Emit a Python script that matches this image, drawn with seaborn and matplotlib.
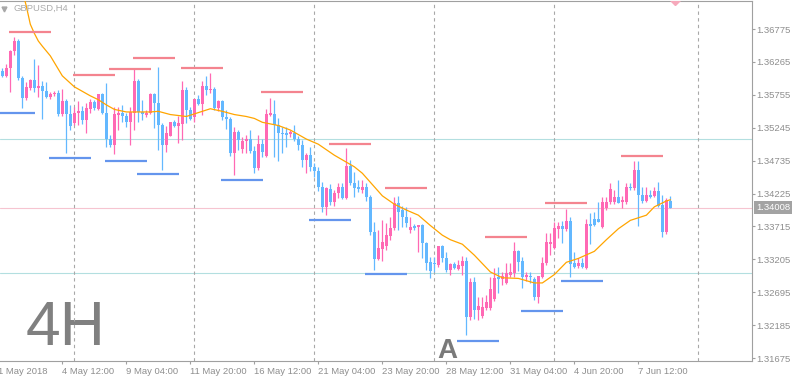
import numpy as np
import pandas as pd
import matplotlib.pyplot as plt
import seaborn as sns

# GBPUSD H4 candles, 2 May 2018 00:00 .. 8 Jun 2018 20:00
opens = [1.3612, 1.3605, 1.3617, 1.3643, 1.3659, 1.3602, 1.3571, 1.3586, 1.3599, 1.3586,
         1.3589, 1.3581, 1.3572, 1.3577, 1.3578, 1.3546, 1.3566, 1.3546, 1.3532, 1.3547,
         1.3550, 1.3537, 1.3554, 1.3564, 1.3554, 1.3577, 1.3547, 1.3507, 1.3498, 1.3544,
         1.3547, 1.3543, 1.3533, 1.3547, 1.3597, 1.3549, 1.3544, 1.3547, 1.3577, 1.3563,
         1.3529, 1.3498, 1.3512, 1.3533, 1.3527, 1.3530, 1.3583, 1.3552, 1.3541, 1.3569,
         1.3561, 1.3589, 1.3583, 1.3585, 1.3555, 1.3566, 1.3541, 1.3538, 1.3485, 1.3518,
         1.3492, 1.3504, 1.3507, 1.3488, 1.3462, 1.3499, 1.3481, 1.3544, 1.3546, 1.3529,
         1.3516, 1.3516, 1.3515, 1.3516, 1.3507, 1.3498, 1.3475, 1.3482, 1.3464, 1.3457,
         1.3433, 1.3402, 1.3430, 1.3409, 1.3423, 1.3433, 1.3416, 1.3465, 1.3439, 1.3433,
         1.3428, 1.3433, 1.3417, 1.3363, 1.3321, 1.3337, 1.3341, 1.3357, 1.3369, 1.3408,
         1.3397, 1.3386, 1.3366, 1.3372, 1.3371, 1.3374, 1.3346, 1.3316, 1.3315, 1.3312,
         1.3341, 1.3323, 1.3304, 1.3313, 1.3306, 1.3310, 1.3318, 1.3231, 1.3285, 1.3242,
         1.3233, 1.3245, 1.3245, 1.3259, 1.3293, 1.3290, 1.3284, 1.3296, 1.3300, 1.3333,
         1.3318, 1.3293, 1.3295, 1.3290, 1.3262, 1.3293, 1.3315, 1.3345, 1.3338, 1.3368,
         1.3372, 1.3368, 1.3380, 1.3315, 1.3310, 1.3315, 1.3307, 1.3375, 1.3383, 1.3383,
         1.3371, 1.3400, 1.3409, 1.3409, 1.3417, 1.3409, 1.3409, 1.3433, 1.3431, 1.3459,
         1.3420, 1.3411, 1.3420, 1.3419, 1.3427, 1.3405, 1.3363, 1.3411]
highs = [1.3617, 1.3623, 1.3645, 1.3665, 1.3662, 1.3605, 1.3595, 1.3600, 1.3631, 1.3622,
         1.3597, 1.3595, 1.3580, 1.3581, 1.3583, 1.3585, 1.3569, 1.3560, 1.3557, 1.3566,
         1.3558, 1.3563, 1.3569, 1.3568, 1.3577, 1.3578, 1.3594, 1.3513, 1.3557, 1.3557,
         1.3560, 1.3547, 1.3557, 1.3616, 1.3600, 1.3568, 1.3552, 1.3578, 1.3578, 1.3619,
         1.3532, 1.3527, 1.3533, 1.3537, 1.3543, 1.3597, 1.3588, 1.3557, 1.3569, 1.3575,
         1.3597, 1.3605, 1.3609, 1.3588, 1.3568, 1.3568, 1.3552, 1.3541, 1.3526, 1.3521,
         1.3510, 1.3513, 1.3521, 1.3496, 1.3513, 1.3507, 1.3554, 1.3571, 1.3568, 1.3540,
         1.3526, 1.3526, 1.3521, 1.3529, 1.3512, 1.3506, 1.3485, 1.3495, 1.3470, 1.3464,
         1.3440, 1.3433, 1.3437, 1.3428, 1.3439, 1.3439, 1.3493, 1.3475, 1.3456, 1.3444,
         1.3444, 1.3439, 1.3420, 1.3378, 1.3366, 1.3382, 1.3377, 1.3386, 1.3417, 1.3419,
         1.3403, 1.3402, 1.3386, 1.3375, 1.3374, 1.3375, 1.3347, 1.3324, 1.3324, 1.3341,
         1.3343, 1.3332, 1.3315, 1.3316, 1.3320, 1.3326, 1.3324, 1.3292, 1.3293, 1.3262,
         1.3262, 1.3265, 1.3293, 1.3307, 1.3309, 1.3301, 1.3315, 1.3315, 1.3347, 1.3335,
         1.3324, 1.3301, 1.3301, 1.3293, 1.3293, 1.3324, 1.3361, 1.3361, 1.3378, 1.3378,
         1.3380, 1.3399, 1.3386, 1.3332, 1.3323, 1.3323, 1.3383, 1.3392, 1.3394, 1.3409,
         1.3417, 1.3417, 1.3439, 1.3428, 1.3444, 1.3419, 1.3439, 1.3439, 1.3473, 1.3473,
         1.3433, 1.3433, 1.3428, 1.3433, 1.3440, 1.3420, 1.3416, 1.3419]
lows = [1.3603, 1.3603, 1.3580, 1.3637, 1.3599, 1.3555, 1.3568, 1.3583, 1.3580, 1.3572,
        1.3538, 1.3571, 1.3569, 1.3574, 1.3543, 1.3543, 1.3485, 1.3521, 1.3529, 1.3529,
        1.3530, 1.3516, 1.3547, 1.3552, 1.3552, 1.3546, 1.3495, 1.3495, 1.3484, 1.3521,
        1.3533, 1.3526, 1.3498, 1.3521, 1.3533, 1.3537, 1.3541, 1.3546, 1.3524, 1.3490,
        1.3459, 1.3487, 1.3512, 1.3526, 1.3501, 1.3506, 1.3532, 1.3537, 1.3533, 1.3560,
        1.3544, 1.3575, 1.3578, 1.3552, 1.3550, 1.3537, 1.3523, 1.3481, 1.3451, 1.3490,
        1.3485, 1.3485, 1.3485, 1.3454, 1.3459, 1.3479, 1.3479, 1.3543, 1.3479, 1.3473,
        1.3485, 1.3495, 1.3510, 1.3504, 1.3490, 1.3464, 1.3454, 1.3457, 1.3448, 1.3426,
        1.3394, 1.3389, 1.3405, 1.3403, 1.3416, 1.3414, 1.3414, 1.3436, 1.3417, 1.3425,
        1.3423, 1.3411, 1.3358, 1.3304, 1.3320, 1.3318, 1.3335, 1.3351, 1.3366, 1.3366,
        1.3371, 1.3371, 1.3361, 1.3366, 1.3332, 1.3323, 1.3304, 1.3292, 1.3301, 1.3309,
        1.3316, 1.3301, 1.3296, 1.3306, 1.3304, 1.3296, 1.3203, 1.3227, 1.3228, 1.3227,
        1.3230, 1.3242, 1.3242, 1.3256, 1.3268, 1.3281, 1.3282, 1.3293, 1.3293, 1.3302,
        1.3276, 1.3287, 1.3284, 1.3258, 1.3253, 1.3292, 1.3312, 1.3327, 1.3337, 1.3354,
        1.3346, 1.3364, 1.3293, 1.3307, 1.3307, 1.3307, 1.3306, 1.3344, 1.3372, 1.3378,
        1.3369, 1.3397, 1.3406, 1.3406, 1.3408, 1.3400, 1.3406, 1.3428, 1.3428, 1.3372,
        1.3408, 1.3409, 1.3416, 1.3417, 1.3402, 1.3355, 1.3360, 1.3400]
closes = [1.3605, 1.3617, 1.3643, 1.3659, 1.3602, 1.3571, 1.3588, 1.3599, 1.3586, 1.3589,
          1.3581, 1.3572, 1.3577, 1.3578, 1.3546, 1.3566, 1.3546, 1.3527, 1.3547, 1.3550,
          1.3537, 1.3555, 1.3564, 1.3555, 1.3577, 1.3547, 1.3507, 1.3498, 1.3546, 1.3547,
          1.3543, 1.3533, 1.3549, 1.3597, 1.3549, 1.3546, 1.3547, 1.3577, 1.3563, 1.3529,
          1.3498, 1.3516, 1.3533, 1.3527, 1.3532, 1.3583, 1.3552, 1.3538, 1.3569, 1.3561,
          1.3589, 1.3583, 1.3585, 1.3555, 1.3566, 1.3541, 1.3538, 1.3485, 1.3518, 1.3506,
          1.3504, 1.3507, 1.3488, 1.3462, 1.3499, 1.3487, 1.3546, 1.3547, 1.3529, 1.3516,
          1.3515, 1.3514, 1.3518, 1.3507, 1.3498, 1.3475, 1.3482, 1.3464, 1.3457, 1.3433,
          1.3402, 1.3431, 1.3409, 1.3423, 1.3433, 1.3416, 1.3465, 1.3439, 1.3431, 1.3430,
          1.3433, 1.3417, 1.3363, 1.3321, 1.3338, 1.3347, 1.3358, 1.3369, 1.3408, 1.3394,
          1.3386, 1.3377, 1.3371, 1.3369, 1.3374, 1.3346, 1.3315, 1.3302, 1.3313, 1.3341,
          1.3323, 1.3304, 1.3313, 1.3307, 1.3312, 1.3318, 1.3231, 1.3285, 1.3242, 1.3248,
          1.3247, 1.3254, 1.3275, 1.3292, 1.3290, 1.3295, 1.3300, 1.3301, 1.3333, 1.3316,
          1.3293, 1.3296, 1.3293, 1.3262, 1.3295, 1.3315, 1.3347, 1.3347, 1.3369, 1.3372,
          1.3368, 1.3380, 1.3313, 1.3309, 1.3315, 1.3308, 1.3375, 1.3372, 1.3374, 1.3379,
          1.3409, 1.3409, 1.3430, 1.3417, 1.3408, 1.3413, 1.3433, 1.3431, 1.3459, 1.3420,
          1.3411, 1.3420, 1.3417, 1.3427, 1.3403, 1.3363, 1.3413, 1.34008]

# moving average, sampled along the orange line (bar index, price)
ma_bar = [5, 6, 7, 8, 9, 10, 12, 15, 18, 20, 22, 24, 26, 28, 31, 34, 37, 39, 42, 46,
          49, 52, 55, 58, 61, 63, 65, 69, 72, 76, 79, 83, 88, 90, 92, 95, 98, 101, 104, 107,
          110, 112, 115, 118, 122, 125, 129, 133, 135, 138, 141, 144, 148, 151, 154, 157, 161, 163, 166, 167]
ma_price = [1.3738, 1.3713, 1.3685, 1.3671, 1.3659, 1.3651, 1.3636, 1.3605, 1.3588, 1.3581,
            1.3574, 1.3568, 1.3560, 1.3553, 1.3549, 1.3549, 1.3549, 1.3550, 1.3545, 1.3542,
            1.3548, 1.3554, 1.3550, 1.3545, 1.3542, 1.3539, 1.3533, 1.3528, 1.3521, 1.3507,
            1.3499, 1.3482, 1.3464, 1.3454, 1.3440, 1.3419, 1.3406, 1.3397, 1.3389, 1.3373,
            1.3358, 1.3351, 1.3344, 1.3327, 1.3301, 1.3292, 1.3291, 1.3284, 1.3284, 1.3297,
            1.3316, 1.3322, 1.3333, 1.3351, 1.3368, 1.3381, 1.3389, 1.3402, 1.3411, 1.3413]

# short resistance / support levels (first bar, price)
res_bar = [2, 18, 27, 33, 45, 65, 82, 96, 121, 136, 155]
res_price = [1.3673, 1.3606, 1.3616, 1.3633, 1.3617, 1.3580, 1.3499, 1.3431, 1.3355, 1.3408, 1.3481]
sup_bar = [-2, 12, 26, 34, 55, 77, 91, 114, 130, 140]
sup_price = [1.3547, 1.3478, 1.3473, 1.3453, 1.3444, 1.3382, 1.3298, 1.3194, 1.3240, 1.3287]

level_lines = [1.3507, 1.3299]
last_price = 1.34008
week_bars = [18, 48, 78, 108, 138, 174]
price_ticks = [1.36775, 1.36265, 1.35755, 1.35245, 1.34735, 1.34225,
               1.33715, 1.33205, 1.32695, 1.32185, 1.31675]
time_bars = [-1, 15, 31, 47, 63, 79, 95, 111, 127, 143, 159]
time_labels = ['1 May 2018', '4 May 12:00', '9 May 04:00', '11 May 20:00', '16 May 12:00',
               '21 May 04:00', '23 May 20:00', '28 May 12:00', '31 May 04:00',
               '4 Jun 20:00', '7 Jun 12:00']

sns.set_style('white')
plt.rcParams['font.family'] = ['Liberation Sans', 'DejaVu Sans']

PINK = '#ff69b4'
BLUE = '#63b8ff'
GREY = '#a0a0a0'
TXT = '#8e8e8e'

fig = plt.figure(figsize=(7.94, 3.81), dpi=100)
ax = fig.add_axes([0, 20 / 381, 752 / 794, 360 / 381])
ax.set_xlim(-0.575, 187.4)
ax.set_ylim(1.3163, 1.3721)

df = pd.DataFrame({'o': opens, 'h': highs, 'l': lows, 'c': closes})
colors = np.where(df.c >= df.o, PINK, BLUE)

# background lines
for lv in level_lines:
    ax.axhline(lv, color='#b3dfe0', lw=0.8, zorder=1)
ax.axhline(last_price, color='#f6c4d0', lw=0.8, zorder=1)
for wb in week_bars:
    ax.axvline(wb, color='#a8a8a8', lw=0.8, ls=(0, (3, 3)), zorder=1)

# candles
ax.vlines(df.index, df.l, df.h, colors=colors, lw=0.9, zorder=3)
body_lo = np.minimum(df.o, df.c)
body_h = np.maximum((df.c - df.o).abs(), 0.00012)
ax.bar(df.index, body_h, bottom=body_lo, width=0.75, color=colors, linewidth=0, zorder=3)

# moving average
sns.lineplot(x=ma_bar, y=ma_price, color='#ffa500', lw=0.9, ax=ax, zorder=4)

# levels
rb = np.array(res_bar)
sb = np.array(sup_bar)
ax.hlines(res_price, rb - 0.3, rb + 10.2, colors='#f4848f', lw=1.6, zorder=5)
ax.hlines(sup_price, sb - 0.3, sb + 10.2, colors='#6495ed', lw=1.6, zorder=5)

# little marker at the top
ax.plot([168.2], [1.3722], marker='D', ms=5, color='#f6a9bb', zorder=5)

# axes styling
for side in ['top', 'right', 'bottom']:
    ax.spines[side].set_color(GREY)
    ax.spines[side].set_linewidth(0.8)
ax.spines['left'].set_visible(False)

ax.yaxis.tick_right()
ax.set_yticks(price_ticks)
ax.set_yticklabels([f'{p:.5f}' for p in price_ticks])
ax.tick_params(axis='y', right=True, left=False, length=2.2, width=0.8, color=GREY,
               labelcolor=TXT, labelsize=6.8, pad=1)

ax.set_xticks(time_bars[1:])
ax.set_xticklabels(time_labels[1:])
ax.tick_params(axis='x', bottom=True, length=2.5, width=0.8, color=GREY,
               labelcolor=TXT, labelsize=6.8, pad=2)
for lab in ax.get_xticklabels():
    lab.set_horizontalalignment('left')
ax.annotate(time_labels[0], xy=(time_bars[0], 0), xycoords=('data', 'axes fraction'),
            xytext=(0, -4.5), textcoords='offset points', ha='left', va='top',
            fontsize=6.8, color=TXT, annotation_clip=False)
ax.set_xlabel('')
ax.set_ylabel('')

# current price tag
ax.annotate(f'{last_price:.5f}', xy=(1, last_price), xycoords=('axes fraction', 'data'),
            xytext=(3, 0), textcoords='offset points', ha='left', va='center',
            fontsize=6.8, color='white', annotation_clip=False,
            bbox=dict(boxstyle='square,pad=0.2', fc='#a3a3a3', ec='none'))

# texts
ax.plot([4.3 / 794], [1 - 8.5 / 381], marker='v', ms=3.5, color='#a8a8a8',
        transform=fig.transFigure, clip_on=False)
fig.text(13 / 794, 1 - 8.5 / 381, 'GBPUSD,H4', fontsize=6.8, color='#ababab',
         ha='left', va='center')
ax.text(26 / 752, (361 - 345) / 360, '4H', transform=ax.transAxes, fontsize=45,
        color='#808080', ha='left', va='baseline', zorder=0.5)
ax.text(437 / 752, (361 - 358) / 360, 'A', transform=ax.transAxes, fontsize=20,
        fontweight='bold', color='#7a7a7a', ha='left', va='baseline', zorder=6)

plt.savefig('out.png', dpi=100)
